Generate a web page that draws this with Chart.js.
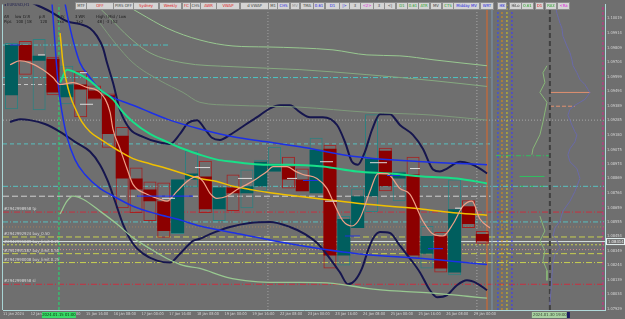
<!DOCTYPE html>
<html><head><meta charset="utf-8">
<script src="https://cdn.jsdelivr.net/npm/chart.js@4.4.1/dist/chart.umd.min.js"></script>
<style>
html,body{margin:0;padding:0;background:#6f6f6f;overflow:hidden;}
#wrap{position:relative;width:625px;height:319px;}
canvas{position:absolute;left:0;top:0;}
.btn{position:absolute;top:2px;height:6px;background:#d4d4d4;border:1px solid #8c8c8c;font:4.2px/6px "DejaVu Sans Condensed","DejaVu Sans",sans-serif;text-align:center;white-space:nowrap;overflow:hidden;color:#404040;box-sizing:content-box;}
.info{position:absolute;font:4.2px/5px "DejaVu Sans Condensed","DejaVu Sans",sans-serif;color:#1a1a1a;white-space:nowrap;}
</style></head>
<body><div id="wrap"><canvas id="c" width="625" height="319"></canvas><div id="ov"></div></div>
<script>
// ---------------- DATA ----------------
const xTickIdx = [0,2,4,6,8,10,12,14,16,18,20,22,24,26,28,30,32,34];
const xTickLabels = ["11 Jan 2024","12 Jan 08:00","15 Jan 00:00","15 Jan 16:00","16 Jan 08:00","17 Jan 00:00","17 Jan 16:00","18 Jan 08:00","19 Jan 00:00","19 Jan 16:00","22 Jan 08:00","23 Jan 00:00","23 Jan 16:00","24 Jan 08:00","25 Jan 00:00","25 Jan 16:00","26 Jan 08:00","29 Jan 00:00"];
const yTickVals = [1.10019,1.09914,1.09809,1.09704,1.09599,1.09494,1.09389,1.09285,1.09180,1.09075,1.08974,1.08869,1.08764,1.08659,1.08555,1.08454,1.08349,1.08244,1.08139,1.08034,1.07929];

// H8 candles (index 0 = 11 Jan 16:00)
const candleOpen  = [1.09465,1.09827,1.09713,1.09728,1.09451,1.09543,1.09500,1.09465,1.09174,1.08868,1.08789,1.08704,1.08475,1.08860,1.08882,1.08647,1.08803,1.08761,1.08811,1.08917,1.08953,1.08860,1.08761,1.09081,1.08313,1.08512,1.08740,1.09066,1.08868,1.08896,1.08327,1.08454,1.08192,1.08668,1.08468];
const candleHigh  = [1.09842,1.09856,1.09870,1.09742,1.09678,1.09642,1.09536,1.09479,1.09238,1.08946,1.08846,1.08839,1.08860,1.09066,1.08995,1.08803,1.08896,1.08932,1.09003,1.09095,1.09024,1.08939,1.09160,1.09110,1.08597,1.08796,1.09330,1.09088,1.08917,1.09024,1.08526,1.08483,1.08860,1.08711,1.08490];
const candleLow   = [1.09365,1.09614,1.09358,1.09465,1.09401,1.09308,1.09436,1.09088,1.08654,1.08619,1.08562,1.08441,1.08468,1.08803,1.08619,1.08562,1.08633,1.08654,1.08775,1.08917,1.08796,1.08775,1.08761,1.08221,1.08242,1.08512,1.08626,1.08775,1.08704,1.08292,1.08221,1.08192,1.08171,1.08512,1.08398];
const candleClose = [1.09827,1.09713,1.09749,1.09486,1.09543,1.09507,1.09443,1.09188,1.08868,1.08789,1.08704,1.08490,1.08860,1.08903,1.08647,1.08803,1.08761,1.08811,1.08988,1.08974,1.08860,1.08775,1.09074,1.08313,1.08576,1.08740,1.09010,1.08811,1.08910,1.08313,1.08454,1.08221,1.08647,1.08540,1.08414];

// indicator curves (x = H8 bar index, y = price)
const navyUpX = [2.17,3.39,4.62,5.56,6.28,6.79,7.22,7.51,7.94,8.45,9.17,10.11,11.12,12.06,12.78,13.36,14.01,14.58,15.09,15.67,16.39,17.47,18.56,19.28,20.00,20.72,21.44,22.17,23.10,24.12,24.69,25.20,25.63,26.14,26.64,27.22,27.94,28.66,29.60,30.32,31.05,31.55,32.06,33.00,33.72,34.44,34.95];
const navyUpY = [1.10126,1.10069,1.09998,1.09977,1.09948,1.09891,1.09806,1.09699,1.09557,1.09358,1.09223,1.09167,1.09131,1.09116,1.09188,1.09266,1.09287,1.09223,1.09160,1.09145,1.09181,1.09252,1.09323,1.09372,1.09394,1.09394,1.09344,1.09308,1.09308,1.09252,1.09131,1.08988,1.08967,1.09061,1.09216,1.09330,1.09330,1.09252,1.09181,1.09081,1.08932,1.08917,1.08939,1.08988,1.08974,1.08939,1.08903];
const navyLoX = [0.51,1.23,1.95,3.03,4.12,5.20,6.28,7.00,7.58,8.09,8.66,9.39,10.11,11.12,12.06,12.78,13.72,14.22,14.95,16.39,17.83,19.28,20.72,21.81,22.67,23.61,24.33,24.91,25.42,25.92,26.35,26.71,27.22,27.94,28.66,29.39,30.11,30.83,31.34,32.06,32.78,33.50,34.22,34.95];
const navyLoY = [1.09274,1.09294,1.09287,1.09259,1.09203,1.09131,1.09061,1.08967,1.08846,1.08704,1.08540,1.08398,1.08327,1.08277,1.08263,1.08327,1.08419,1.08434,1.08468,1.08519,1.08548,1.08555,1.08519,1.08468,1.08405,1.08292,1.08192,1.08107,1.08135,1.08221,1.08349,1.08434,1.08482,1.08475,1.08384,1.08292,1.08192,1.08064,1.08014,1.08029,1.08100,1.08135,1.08114,1.08064];
const blueUpX = [4.48,4.69,4.98,5.27,5.56,6.28,7.00,8.09,9.39,10.61,11.84,14.22,16.61,19.06,21.44,25.56,30.32,34.95];
const blueUpY = [1.10126,1.10019,1.09891,1.09785,1.09699,1.09593,1.09507,1.09443,1.09394,1.09344,1.09294,1.09223,1.09167,1.09131,1.09095,1.09024,1.08988,1.08967];
const blueLoX = [3.54,3.75,3.97,4.26,4.62,5.20,5.92,7.00,7.73,9.39,11.12,12.56,14.22,17.11,20.72,25.56,30.32,34.95];
const blueLoY = [1.10126,1.09842,1.09557,1.09344,1.09167,1.09003,1.08896,1.08796,1.08754,1.08668,1.08612,1.08576,1.08526,1.08468,1.08398,1.08327,1.08292,1.08249];
const greenMaX = [4.12,4.62,5.56,6.28,7.00,7.94,8.66,9.39,10.61,11.84,13.00,14.22,15.45,16.61,17.83,19.06,20.72,23.10,25.56,27.94,30.32,32.78,34.95];
const greenMaY = [1.09557,1.09650,1.09614,1.09571,1.09507,1.09436,1.09344,1.09274,1.09188,1.09131,1.09081,1.09038,1.09003,1.08988,1.08974,1.08967,1.08967,1.08953,1.08917,1.08903,1.08882,1.08868,1.08832];
const goldMaX = [4.12,4.19,4.33,4.55,4.84,5.34,5.70,6.28,7.00,8.23,9.39,10.61,11.84,13.00,14.22,15.45,16.61,17.83,19.06,20.72,23.10,25.56,27.94,30.32,32.78,34.95];
const goldMaY = [1.09913,1.09842,1.09699,1.09579,1.09465,1.09344,1.09274,1.09203,1.09152,1.09074,1.09010,1.08974,1.08939,1.08903,1.08868,1.08846,1.08811,1.08789,1.08768,1.08747,1.08718,1.08690,1.08668,1.08647,1.08619,1.08604];
const paleAX = [8.66,9.89,11.84,14.22,16.61,19.06,21.44,23.83,26.28,28.66,31.05,33.00,34.95];
const paleAY = [1.10126,1.10055,1.09948,1.09863,1.09820,1.09813,1.09806,1.09792,1.09756,1.09749,1.09721,1.09699,1.09678];
const paleBX = [6.64,7.73,9.17,10.61,13.00,16.61,21.44,26.28,31.05,34.95];
const paleBY = [1.10126,1.10019,1.09877,1.09771,1.09699,1.09671,1.09650,1.09614,1.09571,1.09529];
const paleCX = [7.00,8.09,9.39,11.34,13.00,14.22,16.61,21.44,26.28,31.05,34.95];
const paleCY = [1.09984,1.09842,1.09699,1.09571,1.09486,1.09415,1.09394,1.09380,1.09344,1.09323,1.09287];
const paleLoX = [4.12,4.62,5.05,5.78,7.00,8.23,9.39,10.61,11.84,13.00,14.22,16.17,18.05,19.78,21.44,23.83,26.28,28.66,31.05,33.50,34.95];
const paleLoY = [1.08612,1.08704,1.08740,1.08718,1.08633,1.08540,1.08441,1.08363,1.08292,1.08242,1.08221,1.08157,1.08128,1.08121,1.08121,1.08114,1.08078,1.08057,1.08043,1.08021,1.08007];
const salmonX = [0.51,1.23,1.95,2.89,3.61,4.12,5.05,6.06,7.00,7.73,7.94,8.45,8.95,9.39,10.40,11.34,11.84,12.56,13.29,14.01,14.44,14.95,15.45,16.17,16.90,17.62,18.34,19.06,19.49,20.51,21.16,21.66,22.67,23.39,23.83,24.55,25.20,25.78,26.50,27.08,27.73,28.66,29.39,30.32,31.05,31.77,32.49,33.21,33.86,34.44,35.16];
const salmonY = [1.09685,1.09714,1.09699,1.09650,1.09593,1.09543,1.09557,1.09522,1.09486,1.09344,1.09223,1.09081,1.08939,1.08825,1.08754,1.08718,1.08704,1.08775,1.08846,1.08882,1.08846,1.08761,1.08725,1.08740,1.08789,1.08825,1.08868,1.08917,1.08953,1.08953,1.08917,1.08896,1.08868,1.08796,1.08704,1.08562,1.08526,1.08583,1.08775,1.08903,1.08903,1.08796,1.08754,1.08562,1.08468,1.08454,1.08540,1.08668,1.08704,1.08576,1.08512];

// short pivot marks inside candles
const whiteDashStart = [2.53,5.56,5.56,11.48,13.86,16.97,20.51,22.89,23.25,26.50,29.39,32.64];
const whiteDashEnd   = [3.03,6.06,6.50,12.42,14.95,17.98,21.23,23.83,24.12,27.73,30.11,33.14];
const whiteDashPrice = [1.09756,1.09628,1.09401,1.08725,1.08946,1.08868,1.08868,1.08988,1.08704,1.08981,1.08939,1.08654];
const blueMarkStart = [0.51,9.68,21.66,24.69,27.73,30.69];
const blueMarkEnd   = [1.23,13.72,22.74,25.78,28.66,31.77];
const blueMarkPrice = [1.09827,1.08740,1.08853,1.08454,1.08889,1.08363];

// horizontal levels
const levelPrice = [1.09827,1.09593,1.09543,1.09287,1.09116,1.08811,1.08740,1.08626,1.08555,1.08519,1.08447,1.08391,1.08356,1.08327,1.08263,1.08107];
const levelFrom  = [0,0,0,0,0,0,0,0,0,0,0,0,0,0,0,0];
const levelTo    = [12,35.2,4.1,43.4,35.2,43.4,35.2,43.4,43.4,43.4,43.4,43.4,43.4,43.4,43.4,43.4];
const shortLevelPrice = [1.09486,1.09387,1.09031,1.08882,1.08811];
const shortLevelFrom  = [39.5,39.5,35.6,37.3,37.3];
const shortLevelTo    = [42.4,41.3,39.5,39.1,39.5];

// vertical markers
const vLineX = [4.04,19.13,34.22,34.95,35.31,35.74,36.03,36.39,36.75,39.49,43.32];

// order tags on the left
const tagText  = ["#2942998958 tp","#2942992924 buy_0.50","#2942991089 buy_limit 0.25","#2942991387 buy_limit 0.50","#2942990008 buy_limit 0.25","#2942998958 sl"];
const tagPrice = [1.08626,1.08447,1.08391,1.08327,1.08263,1.08107];

// volume profiles (right side)
const profBlueX = [39.86,40.00,40.22,40.36,40.43,40.72,40.94,41.08,41.16,41.44,41.66,42.02,42.24,42.38,42.24,42.02,41.66,41.30,40.94,40.79,40.94,41.08,41.30,41.44,41.30,40.94,40.79,40.94,41.44,41.66,41.30,40.94,40.43,40.22,39.86,39.71,40.00,40.22,39.86,39.71,39.64,39.57,39.49];
const profBlueY = [1.10126,1.10055,1.09984,1.09948,1.09891,1.09820,1.09771,1.09721,1.09678,1.09628,1.09579,1.09543,1.09507,1.09486,1.09465,1.09436,1.09415,1.09394,1.09365,1.09323,1.09287,1.09252,1.09203,1.09181,1.09131,1.09081,1.09038,1.08988,1.08939,1.08868,1.08775,1.08704,1.08633,1.08562,1.08512,1.08454,1.08419,1.08370,1.08327,1.08256,1.08171,1.08064,1.07957];
const profGreenX = [39.28,38.99,39.13,38.77,39.28,39.13,38.99,38.77,38.27,38.19,null,38.77,39.13,38.77,39.13,38.99,39.28,39.28];
const profGreenY = [1.09678,1.09628,1.09557,1.09486,1.09415,1.09344,1.09274,1.09181,1.09081,1.09038,null,1.08597,1.08490,1.08419,1.08349,1.08277,1.08206,1.08135];

// ---------------- STYLE / BUILD ----------------
const RED_BODY='#8c0000', RED_EDGE='#a82020', TEAL_BODY='#005e5e', TEAL_EDGE='#2f8080';
const idx = candleOpen.map((_,i)=>i);
const bull = idx.map(i => candleClose[i] >= candleOpen[i]);
const pts = (xs, ys) => xs.map((x,i)=> x===null ? {x:NaN,y:null} : {x, y:ys[i]});
const segs = (a,b,p) => { const out=[]; a.forEach((s,i)=>{out.push({x:s,y:p[i]},{x:b[i],y:p[i]},{x:b[i]+0.001,y:null});}); return out; };
const line = (data, color, width, extra={}) => Object.assign({type:'line', data, borderColor:color, borderWidth:width, pointRadius:0, cubicInterpolationMode:'monotone', fill:false, order:1, spanGaps:false}, extra);
const straight = {cubicInterpolationMode:'default', tension:0};

const levelStyle = [
 ['#4cc4c4',[5,2,1,2]],['#4cc4c4',[5,2,1,2]],['#c8c8c8',[4,3]],['#a8a8a8',[1,2]],['#58c0c0',[4,3]],['#58c0c0',[5,2,1,2]],
 ['#d0d0d0',[6,3]],['#c83040',[6,2,1,2]],['#58c0c0',[5,2,1,2]],['#a08060',[1,2]],['#c8d050',[6,3]],['#c8d050',[2,2]],
 ['#d09090',[1,2]],['#c8d050',[6,3]],['#c8d050',[6,2,1,2]],['#c83040',[6,2,1,2]]];
const shortStyle = [['#e09070',[]],['#e09070',[4,2]],['#30c060',[5,2,1,2]],['#30c060',[]],['#30c060',[5,2,1,2]]];
const vStyle = [['#20e070',[3,2],1],['#a0a0a0',[1,2],1],['#a8a8a8',[1,2],1],['#e06828',[],1],['#7896b0',[],1],['#3048ff',[2,2],1],['#e09010',[2,2],1],['#d8c818',[2,2],1],['#3838ff',[2,2],1],['#404040',[5,3],2],['#d02888',[3,2],1]];

const datasets = [];
levelPrice.forEach((p,i)=>datasets.push(line([{x:levelFrom[i],y:p},{x:levelTo[i],y:p}], levelStyle[i][0], 1, Object.assign({borderDash:levelStyle[i][1], order:20}, straight))));
shortLevelPrice.forEach((p,i)=>datasets.push(line([{x:shortLevelFrom[i],y:p},{x:shortLevelTo[i],y:p}], shortStyle[i][0], 1, Object.assign({borderDash:shortStyle[i][1], order:20}, straight))));
datasets.push(line([{x:0,y:candleClose[34]},{x:43.47,y:candleClose[34]}], '#d8e4e4', 1, Object.assign({order:19}, straight)));
vLineX.forEach((x,i)=>datasets.push(line([{x,y:1.07922},{x,y:1.10119}], vStyle[i][0], vStyle[i][2], Object.assign({borderDash:vStyle[i][1], order:18}, straight))));

datasets.push({type:'bar', order:6, grouped:false, borderSkipped:false, categoryPercentage:0.94, barPercentage:1,
  data: idx.map(i=>({x:i+0.61, y:[candleLow[i], candleHigh[i]]})),
  backgroundColor:'rgba(0,0,0,0)', borderColor: idx.map(i=>bull[i]?TEAL_EDGE:RED_EDGE), borderWidth:1});
datasets.push({type:'bar', order:5, grouped:false, borderSkipped:false, categoryPercentage:0.94, barPercentage:1,
  data: idx.map(i=>({x:i+0.61, y:[candleOpen[i], candleClose[i]]})),
  backgroundColor: idx.map(i=>bull[i]?TEAL_BODY:RED_BODY), borderWidth:0});

datasets.push(line(pts(paleAX,paleAY), '#98c890', 1));
datasets.push(line(pts(paleBX,paleBY), '#86aa80', 1));
datasets.push(line(pts(paleCX,paleCY), '#7e9a7a', 1));
datasets.push(line(pts(paleLoX,paleLoY), '#98c890', 1.3));
datasets.push(line(pts(profGreenX,profGreenY), '#88b878', 1, straight));
datasets.push(line(pts(profBlueX,profBlueY), '#6a6aa8', 1, straight));
datasets.push(line(segs(whiteDashStart,whiteDashEnd,whiteDashPrice), '#dcdcdc', 1, straight));
datasets.push(line(segs(blueMarkStart,blueMarkEnd,blueMarkPrice), '#2030e0', 1.2, straight));
datasets.push(line(pts(salmonX,salmonY), '#f0a088', 1.2));
datasets.push(line(pts(goldMaX,goldMaY), '#f0c000', 1.5));
datasets.push(line(pts(greenMaX,greenMaY), '#18e088', 2));
datasets.push(line(pts(blueUpX,blueUpY), '#1c30e8', 1.5));
datasets.push(line(pts(blueLoX,blueLoY), '#1c30e8', 1.5));
datasets.push(line(pts(navyUpX,navyUpY), '#16164e', 2));
datasets.push(line(pts(navyLoX,navyLoY), '#16164e', 2));

const FONT = '"DejaVu Sans Condensed", "DejaVu Sans", sans-serif';
const decor = {
  id:'decor',
  beforeDatasetsDraw(chart){
    const {ctx, chartArea:a} = chart;
    ctx.save(); ctx.strokeStyle='#a8d4d4'; ctx.lineWidth=1;
    ctx.beginPath(); ctx.moveTo(a.left-0.5,a.top); ctx.lineTo(a.left-0.5,a.bottom); ctx.stroke(); ctx.restore();
  },
  afterDraw(chart){
    const {ctx, scales:{x,y}, chartArea:a} = chart;
    ctx.save();
    ctx.font = '4.2px '+FONT; ctx.textBaseline='bottom'; ctx.fillStyle='#d8d8d8';
    tagText.forEach((t,i)=>ctx.fillText(t, x.getPixelForValue(0.08), y.getPixelForValue(tagPrice[i])-1));
    const py = y.getPixelForValue(candleClose[34]);
    ctx.fillStyle='#707070'; ctx.strokeStyle='#e8f4f4'; ctx.lineWidth=1;
    ctx.fillRect(a.right+1, py-3.5, 19, 7); ctx.strokeRect(a.right+1.5, py-3, 18, 6);
    ctx.fillStyle='#f0f0f0'; ctx.textBaseline='middle'; ctx.fillText(candleClose[34].toFixed(5), a.right+3, py+0.5);
    const m1 = x.getPixelForValue(vLineX[0]);
    ctx.fillStyle='#38dc68'; ctx.fillRect(m1-17, a.bottom+2, 34, 6);
    ctx.fillStyle='#0a2a0a'; ctx.textAlign='center'; ctx.fillText('2024.01.15 01:00', m1, a.bottom+5.2);
    const m2 = x.getPixelForValue(vLineX[9]);
    ctx.fillStyle='#a8d0a0'; ctx.fillRect(m2-18, a.bottom+2, 35, 6);
    ctx.fillStyle='#1c1c60'; ctx.fillRect(m2+17, a.bottom+2, 3, 6);
    ctx.fillStyle='#304030'; ctx.fillText('2024.01.30 19:00', m2, a.bottom+5.2);
    ctx.restore();
  }
};

new Chart(document.getElementById('c'), {
  type:'bar',
  data:{datasets},
  options:{
    responsive:false, animation:false, devicePixelRatio:1,
    layout:{padding:{left:3, top:1, right:0, bottom:0}},
    plugins:{legend:{display:false}, tooltip:{enabled:false}},
    scales:{
      x:{type:'linear', min:0, max:43.47, offset:false,
        afterBuildTicks:s=>{s.ticks = xTickIdx.map(v=>({value:v}));},
        afterFit:s=>{s.height=9;},
        ticks:{autoSkip:false, maxRotation:0, minRotation:0, align:'start', padding:2, color:'#d4d4d4', font:{size:3.9, family:FONT},
          callback:(v,i)=>xTickLabels[i]},
        grid:{display:false, drawTicks:false, offset:false}, border:{display:true, color:'#b0dada'}},
      y:{type:'linear', position:'right', min:1.07922, max:1.10119, beginAtZero:false,
        afterBuildTicks:s=>{s.ticks = yTickVals.map(v=>({value:v}));},
        afterFit:s=>{s.width=20;},
        ticks:{autoSkip:false, padding:2, color:'#d4d4d4', font:{size:4, family:FONT}, callback:v=>v.toFixed(5)},
        grid:{display:false, drawTicks:false}, border:{display:true, color:'#b0dada'}}
    }
  },
  plugins:[decor]
});

// ---------------- HTML overlay: button bar and info text ----------------
const buttons = [["MTF",75,10,"#404040"],["OFF",86,26,"#e02020"],["PIRS OFF",113,19,"#404040"],["Sydney",133,24,"#e02020"],["Weekly",159,21,"#e02020"],["FC",182,7,"#e02020"],["CHS",190,9,"#404040"],["AWR",200,15,"#e02020"],["VWAP",216,22,"#e02020"],["d VWAP",240,27,"#404040"],["M1",268,8,"#404040"],["CHS",277,11,"#2020e0"],["MV",290,8,"#909090"],["TMA",300,12,"#404040"],["0.61",313,10,"#2020e0"],["D1",325,13,"#2020e0"],["|>",339,9,"#2020e0"],["3",349,10,"#404040"],["<2>",360,12,"#e020e0"],["3",373,10,"#404040"],["<|",384,10,"#404040"],["D1",396,10,"#20a020"],["0.61",407,10,"#20a020"],["ATR",418,10,"#20a020"],["MV",430,10,"#404040"],["CTS",442,10,"#20a020"],["Midday MV",453,25,"#2020e0"],["WRT",480,12,"#2020e0"],["H8",497,8,"#2020e0"],["HiLo",509,11,"#303030"],["0.61",521,11,"#20a020"],["D1",535,7,"#e02020"],["RA3",545,10,"#20a020"],["<Ra",557,11,"#e020e0"]];
const ov = document.getElementById('ov');
buttons.forEach(b=>{const d=document.createElement('div'); d.className='btn'; d.textContent=b[0]; d.style.left=b[1]+'px'; d.style.width=b[2]+'px'; d.style.color=b[3]; ov.appendChild(d);});
const infos = [["\u25C2 EURUSD,H1",4,2,"#202050"],["AR",4,14],["Pips",4,19],["low Cr.R",15,14],["100 | 18",16,19],["p.R",39,14],["120",40,19],["1.Pc",57,14],["1xx",57,19],["3 WR",75,14],["1x2",76,19],["High / Mid / Low",96,14],["48 | -3 | 52",97,19]];
infos.forEach(t=>{const d=document.createElement('div'); d.className='info'; d.textContent=t[0]; d.style.left=t[1]+'px'; d.style.top=t[2]+'px'; if(t[3]) d.style.color=t[3]; ov.appendChild(d);});
</script></body></html>
